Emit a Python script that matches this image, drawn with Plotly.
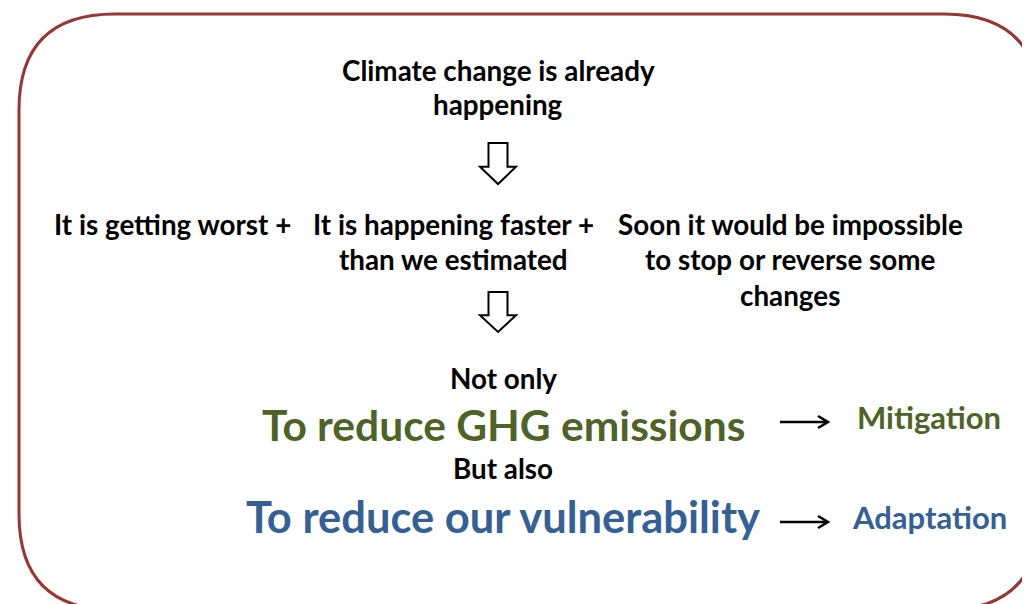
import plotly.graph_objects as go

# ---- diagram text ----
head_lines = ["Climate change is already", "happening"]
reasons = [["It is getting worst +"],
           ["It is happening faster +", "than we estimated"],
           ["Soon it would be impossible", "to stop or reverse some", "changes"]]
reason_x = [172, 453, 790]
connectors = ["Not only", "But also"]
connector_y = [378, 468]
goals = ["To reduce GHG emissions", "To reduce our vulnerability"]
goal_y = [424, 516]
goal_sizes = [42.5, 43.5]
outcomes = ["Mitigation", "Adaptation"]
outcome_y = [417, 517]
goal_colors = ["#4F6228", "#376092"]

W, H = 1030, 604
OFF = 8  # page body margin; work in window pixels
FONT = "Lato"
BODY = 27.8

fig = go.Figure()

# rounded frame (runs off the right and bottom edges)
x0, y0, x1, y1, r = 19, 14, 1040, 610, 96
frame = (f"M {x0+r},{y0} L {x1-r},{y0} Q {x1},{y0} {x1},{y0+r} "
         f"L {x1},{y1-r} Q {x1},{y1} {x1-r},{y1} L {x0+r},{y1} "
         f"Q {x0},{y1} {x0},{y1-r} L {x0},{y0+r} Q {x0},{y0} {x0+r},{y0} Z")
fig.add_shape(type="path", path=frame, line=dict(color="#953735", width=3))


def down_arrow(cx, top, bottom):
    # hollow block arrow pointing down
    sw, hw = 9.5, 18
    neck = top + (bottom - top) * 0.58
    p = (f"M {cx-sw},{top} L {cx+sw},{top} L {cx+sw},{neck} L {cx+hw},{neck} "
         f"L {cx},{bottom} L {cx-hw},{neck} L {cx-sw},{neck} Z")
    fig.add_shape(type="path", path=p, line=dict(color="black", width=2), fillcolor="white")


down_arrow(498, 143, 184)
down_arrow(498, 292, 332)


def label(x, y, txt, size, color="black"):
    fig.add_annotation(x=x, y=y, text=txt, showarrow=False,
                       font=dict(family=FONT, size=size, color=color, weight="bold"))


for i, line in enumerate(head_lines):
    label(498, 70 + i * 34, line, BODY)

for lines, x in zip(reasons, reason_x):
    for i, line in enumerate(lines):
        label(x, 224 + i * 35.5, line, BODY)

for txt, y in zip(connectors, connector_y):
    label(503, y, txt, BODY)

for txt, y, s, c in zip(goals, goal_y, goal_sizes, goal_colors):
    label(503, y, txt, s, c)

for txt, y, c in zip(outcomes, outcome_y, goal_colors):
    label(929, y, txt, 31, c)
    # small right-pointing arrow
    ya = y + 5
    fig.add_shape(type="path",
                  path=f"M 780,{ya} L 828,{ya} M 818,{ya-6} L 828,{ya} L 818,{ya+6}",
                  line=dict(color="black", width=2.5))

fig.update_xaxes(range=[OFF, W + OFF], visible=False)
fig.update_yaxes(range=[H + OFF, OFF], visible=False)
fig.update_layout(width=W, height=H, margin=dict(l=0, r=0, t=0, b=0),
                  paper_bgcolor="white", plot_bgcolor="white", showlegend=False)

fig.write_html("out.html")
